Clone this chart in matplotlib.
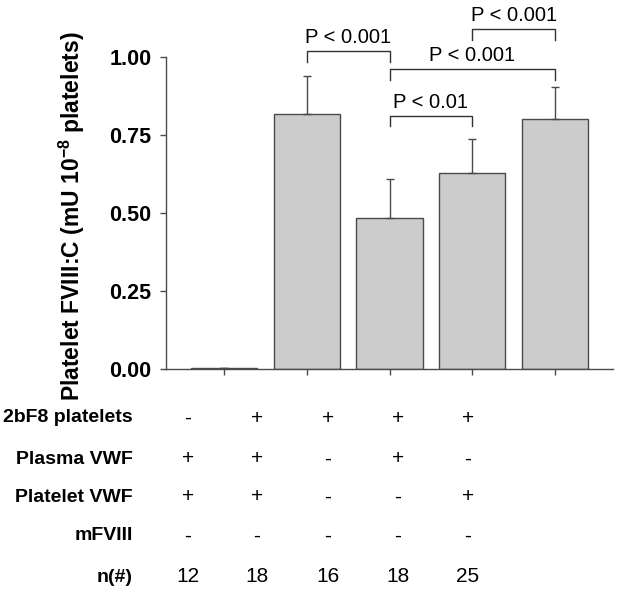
import matplotlib
matplotlib.use("Agg")
import matplotlib.pyplot as plt

plt.rcParams['font.family'] = ['Liberation Sans', 'DejaVu Sans']
plt.rcParams['mathtext.fontset'] = 'custom'
plt.rcParams['mathtext.rm'] = 'Liberation Sans'
plt.rcParams['mathtext.bf'] = 'Liberation Sans:bold'

# bar values
means = [0.005, 0.818, 0.483, 0.627, 0.801]
errs = [0.0, 0.121, 0.125, 0.109, 0.102]

# comparison brackets: (left bar, right bar, bracket height, label)
brackets = [
    (1, 2, 1.018, "P < 0.001"),
    (2, 4, 0.961, "P < 0.001"),
    (2, 3, 0.811, "P < 0.01"),
    (3, 4, 1.089, "P < 0.001"),
]

row_labels = ["2bF8 platelets", "Plasma VWF", "Platelet VWF", "mFVIII", "n(#)"]
row_values = [
    ["-", "+", "+", "+", "+"],
    ["+", "+", "-", "+", "-"],
    ["+", "+", "-", "-", "+"],
    ["-", "-", "-", "-", "-"],
    ["12", "18", "16", "18", "25"],
]

W, H = 621, 595
fig = plt.figure(figsize=(W / 100, H / 100), dpi=100)
ax = fig.add_axes([166 / W, 1 - 369.3 / H, 447 / W, 312.6 / H])

edge = '#4a4a4a'
x = range(len(means))
ax.bar(x, means, width=0.8, color='#cccccc', edgecolor=edge, linewidth=1.0)
ax.errorbar(x, means, yerr=[[0] * len(errs), errs], fmt='none',
            ecolor=edge, elinewidth=1.0, capsize=3, capthick=1.0)

ax.set_xlim(-0.7, 4.7)
ax.set_ylim(0, 1.0)
ax.set_yticks([0, 0.25, 0.5, 0.75, 1.0])
ax.set_yticklabels(["0.00", "0.25", "0.50", "0.75", "1.00"],
                   fontsize=15.5, fontweight='bold')
ax.set_xticks(list(x))
ax.set_xticklabels([])
ax.tick_params(axis='both', direction='out', length=4.5, width=1,
               color=edge, pad=6)
for s in ['top', 'right']:
    ax.spines[s].set_visible(False)
for s in ['left', 'bottom']:
    ax.spines[s].set_color(edge)
    ax.spines[s].set_linewidth(1.0)

fig.text(72 / W, 1 - 216 / H,
         r"Platelet FVIII:C (mU 10$^{\mathbf{-8}}$ platelets)",
         rotation=90, ha='center', va='center',
         fontsize=16.5, fontweight='bold')

leg = 0.034
for a, b, h, lab in brackets:
    ax.plot([a, a, b, b], [h - leg, h, h, h - leg], color='#333333',
            lw=1.0, clip_on=False)
    ax.text((a + b) / 2, h + 0.012, lab, ha='center', va='bottom',
            fontsize=14.5, clip_on=False)

# table below the chart
col_x = [188, 257, 328, 398, 468]
row_y = [418, 459, 497, 536, 577]
for i, lab in enumerate(row_labels):
    fig.text(133 / W, 1 - row_y[i] / H, lab, ha='right', va='center',
             fontsize=14, fontweight='bold')
    for j, v in enumerate(row_values[i]):
        fig.text(col_x[j] / W, 1 - row_y[i] / H, v, ha='center',
                 va='center', fontsize=15)

fig.savefig("out.png", dpi=100)
